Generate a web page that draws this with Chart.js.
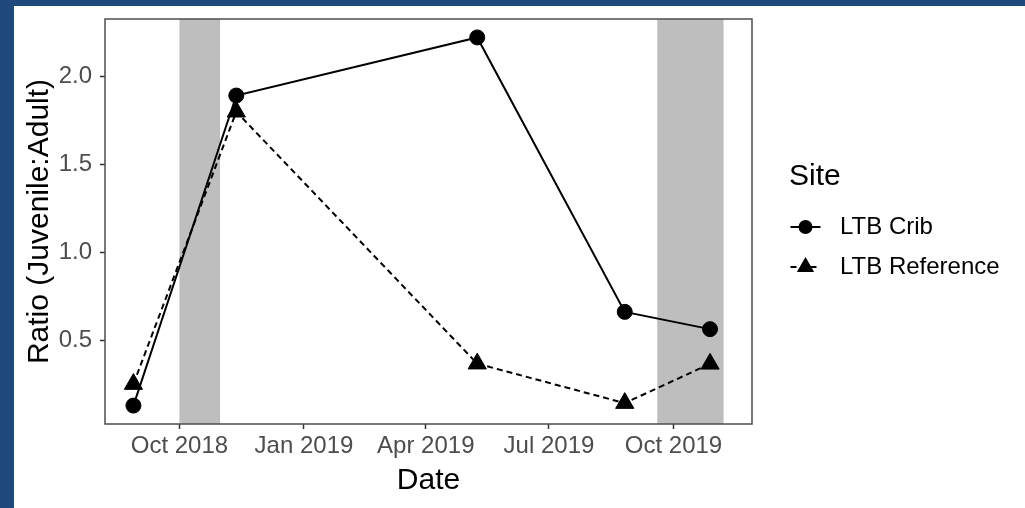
<!DOCTYPE html>
<html>
<head>
<meta charset="utf-8">
<title>Juvenile:Adult ratio by site</title>
<script src="https://cdn.jsdelivr.net/npm/chart.js@4/dist/chart.umd.min.js"></script>
<style>
  html, body { margin: 0; padding: 0; width: 1025px; height: 508px; overflow: hidden; background: #1f497d; }
  #frame { position: absolute; left: 14px; top: 6px; width: 1011px; height: 502px; background: #ffffff; }
  canvas { display: block; }
</style>
</head>
<body>
<div id="frame"><canvas id="ratioChart" width="1011" height="502"></canvas></div>
<script>
// Sampling dates and juvenile:adult ratios per site
const sampleDates = ['2018-08-28', '2018-11-12', '2019-05-09', '2019-08-26', '2019-10-28'];
const cribRatio = [0.132, 1.892, 2.222, 0.664, 0.566];
const referenceRatio = [0.254, 1.800, 0.370, 0.146, 0.369];
const seriesNames = ['LTB Crib', 'LTB Reference'];

// Periods shaded in grey
const shadeStart = ['2018-10-01', '2019-09-19'];
const shadeEnd = ['2018-10-31', '2019-11-07'];

// Axis ticks and ranges
const xTickDates = ['2018-10-01', '2019-01-01', '2019-04-01', '2019-07-01', '2019-10-01'];
const xTickLabels = ['Oct 2018', 'Jan 2019', 'Apr 2019', 'Jul 2019', 'Oct 2019'];
const xRange = ['2018-08-07', '2019-11-28'];
const yTickValues = [0.5, 1.0, 1.5, 2.0];
const yRange = [0.0275, 2.3265];

const FONT = "'Liberation Sans', Arial, Helvetica, sans-serif";
const dayNum = s => Date.parse(s + 'T00:00:00Z') / 86400000;
const toPoints = vals => sampleDates.map((d, i) => ({ x: dayNum(d), y: vals[i] }));

// Grey background bands behind the series
const shadeBands = {
  id: 'shadeBands',
  beforeDatasetsDraw(chart) {
    const { ctx, chartArea, scales } = chart;
    ctx.save();
    ctx.fillStyle = '#bebebe';
    shadeStart.forEach((s, i) => {
      const x1 = scales.x.getPixelForValue(dayNum(s));
      const x2 = scales.x.getPixelForValue(dayNum(shadeEnd[i]));
      ctx.fillRect(x1, chartArea.top, x2 - x1, chartArea.bottom - chartArea.top);
    });
    ctx.restore();
  }
};

// Panel border around the plotting area
const panelBorder = {
  id: 'panelBorder',
  afterDatasetsDraw(chart) {
    const { ctx, chartArea } = chart;
    ctx.save();
    ctx.strokeStyle = '#4d4d4d';
    ctx.lineWidth = 1.5;
    ctx.strokeRect(chartArea.left, chartArea.top, chartArea.right - chartArea.left, chartArea.bottom - chartArea.top);
    ctx.restore();
  }
};

// Legend at the right: title plus line-and-marker keys
const siteLegend = {
  id: 'siteLegend',
  afterDraw(chart) {
    const { ctx, chartArea } = chart;
    const x0 = chartArea.right + 37;
    ctx.save();
    ctx.fillStyle = '#000';
    ctx.textAlign = 'left';
    ctx.textBaseline = 'alphabetic';
    ctx.font = '30px ' + FONT;
    ctx.fillText('Site', x0, 179);

    const keyX = x0 + 16.5;
    const rows = [221, 261];
    ctx.strokeStyle = '#000';
    ctx.lineWidth = 2;
    // LTB Crib key: solid line with circle
    ctx.setLineDash([]);
    ctx.beginPath();
    ctx.moveTo(keyX - 15, rows[0]);
    ctx.lineTo(keyX + 15, rows[0]);
    ctx.stroke();
    ctx.beginPath();
    ctx.arc(keyX, rows[0], 7, 0, Math.PI * 2);
    ctx.fill();
    // LTB Reference key: dashed line with triangle
    ctx.setLineDash([6, 4]);
    ctx.beginPath();
    ctx.moveTo(keyX - 15, rows[1]);
    ctx.lineTo(keyX + 15, rows[1]);
    ctx.stroke();
    ctx.setLineDash([]);
    const r = 10;
    ctx.beginPath();
    ctx.moveTo(keyX, rows[1] - r);
    ctx.lineTo(keyX + r * 0.866, rows[1] + r / 2);
    ctx.lineTo(keyX - r * 0.866, rows[1] + r / 2);
    ctx.closePath();
    ctx.fill();

    ctx.font = '24px ' + FONT;
    ctx.textBaseline = 'middle';
    seriesNames.forEach((name, i) => ctx.fillText(name, x0 + 51, rows[i]));
    ctx.restore();
  }
};

const noEdgePadding = s => { s.paddingTop = 0; s.paddingBottom = 0; s.paddingLeft = 0; s.paddingRight = 0; };

new Chart(document.getElementById('ratioChart'), {
  type: 'line',
  data: {
    datasets: [
      {
        label: seriesNames[0],
        data: toPoints(cribRatio),
        borderColor: '#000',
        backgroundColor: '#000',
        borderWidth: 2,
        pointStyle: 'circle',
        pointRadius: 7.5,
        pointBorderWidth: 1,
        tension: 0
      },
      {
        label: seriesNames[1],
        data: toPoints(referenceRatio),
        borderColor: '#000',
        backgroundColor: '#000',
        borderWidth: 2,
        borderDash: [6, 4],
        pointStyle: 'triangle',
        pointRadius: 10.5,
        pointBorderWidth: 1,
        tension: 0
      }
    ]
  },
  options: {
    responsive: false,
    animation: false,
    devicePixelRatio: 1,
    layout: { padding: { left: 0, top: 13, right: 273, bottom: 0 } },
    plugins: { legend: { display: false }, tooltip: { enabled: false } },
    scales: {
      x: {
        type: 'linear',
        min: dayNum(xRange[0]),
        max: dayNum(xRange[1]),
        afterBuildTicks: s => { s.ticks = xTickDates.map(d => ({ value: dayNum(d) })); },
        afterFit: s => { s.height = 84; noEdgePadding(s); },
        ticks: {
          callback: (v, i) => xTickLabels[i],
          autoSkip: false,
          maxRotation: 0,
          color: '#4d4d4d',
          font: { family: FONT, size: 24 },
          padding: 3
        },
        grid: { display: true, drawOnChartArea: false, drawTicks: true, tickLength: 5, tickColor: '#333', tickWidth: 1.5 },
        border: { display: false },
        title: { display: true, text: 'Date', color: '#000', font: { family: FONT, size: 30 }, padding: { top: 0, bottom: 9 } }
      },
      y: {
        type: 'linear',
        min: yRange[0],
        max: yRange[1],
        afterBuildTicks: s => { s.ticks = yTickValues.map(v => ({ value: v })); },
        afterFit: s => { s.width = 91; noEdgePadding(s); },
        ticks: {
          callback: v => v.toFixed(1),
          color: '#4d4d4d',
          font: { family: FONT, size: 24 },
          padding: 8
        },
        grid: { display: true, drawOnChartArea: false, drawTicks: true, tickLength: 5, tickColor: '#333', tickWidth: 1.5 },
        border: { display: false },
        title: { display: true, text: 'Ratio (Juvenile:Adult)', color: '#000', font: { family: FONT, size: 30 }, padding: { top: 8, bottom: 0 } }
      }
    }
  },
  plugins: [shadeBands, panelBorder, siteLegend]
});
</script>
</body>
</html>
